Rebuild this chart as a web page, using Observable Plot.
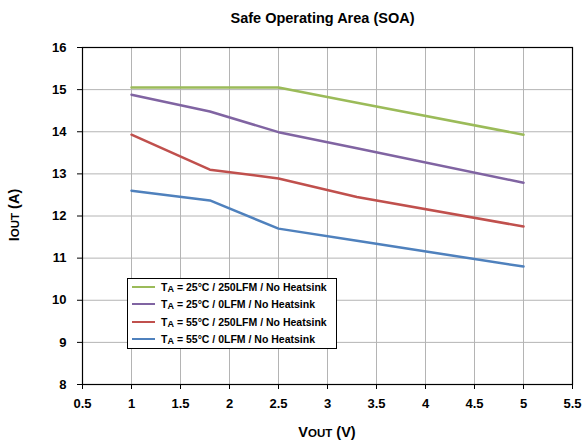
<!DOCTYPE html>
<html>
<head>
<meta charset="utf-8">
<script src="https://cdn.jsdelivr.net/npm/d3@7"></script>
<script src="https://cdn.jsdelivr.net/npm/@observablehq/plot@0.6"></script>
<style>
  body { margin: 0; background: #fff; font-family: "Liberation Sans", Arial, sans-serif; }
  #wrap { position: relative; width: 587px; height: 440px; }
  #title { height: 36px; line-height: 36px; text-align: center; font-weight: bold; font-size: 14.5px; color: #000; padding-left: 58px; box-sizing: border-box; }
  .axlabel { position: absolute; font-weight: bold; font-size: 14.5px; color: #000; white-space: nowrap; }
  .axlabel .sub { font-size: 11.5px; }
  #xlabel { left: 327px; top: 424px; transform: translateX(-50%); }
  #ylabel { left: 14px; top: 215px; transform: translate(-50%, -50%) rotate(-90deg); }
  #legend { position: absolute; left: 127px; top: 278px; width: 210px; height: 71px; border: 1px solid #000; background: #fff; box-sizing: border-box; font-weight: bold; font-size: 10.5px; color: #000; }
  .entry { position: absolute; left: 4px; height: 13px; display: flex; align-items: center; white-space: nowrap; }
  .swatch { width: 23px; height: 2px; margin-right: 6px; }
  .entry .sub { font-size: 9px; position: relative; top: 2px; margin-right: 3px; }
</style>
</head>
<body>
<div id="wrap">
  <div id="title">Safe Operating Area (SOA)</div>
  <div id="chart"></div>
  <div id="xlabel" class="axlabel">V<span class="sub">OUT</span> (V)</div>
  <div id="ylabel" class="axlabel">I<span class="sub">OUT</span> (A)</div>
  <div id="legend"></div>
</div>
<script>
// Output current limits (A) versus output voltage (V) for each operating condition
const seriesNames = [
  "25°C / 250LFM / No Heatsink",
  "25°C / 0LFM / No Heatsink",
  "55°C / 250LFM / No Heatsink",
  "55°C / 0LFM / No Heatsink"
];
const seriesColors = ["#9BBB59", "#8064A2", "#C0504D", "#4F81BD"];

const voutPoints = [1, 1.8, 2.5, 3.3, 5];
const iout25C250LFM = [15.05, 15.05, 15.05, 14.69, 13.93];
const iout25C0LFM   = [14.88, 14.48, 13.99, 13.61, 12.79];
const iout55C250LFM = [13.93, 13.10, 12.89, 12.45, 11.75];
const iout55C0LFM   = [12.60, 12.37, 11.70, 11.41, 10.80];

const xTicks = [0.5, 1, 1.5, 2, 2.5, 3, 3.5, 4, 4.5, 5, 5.5];
const yTicks = [8, 9, 10, 11, 12, 13, 14, 15, 16];

const allSeries = [iout25C250LFM, iout25C0LFM, iout55C250LFM, iout55C0LFM];
const rows = allSeries.flatMap((vals, s) =>
  vals.map((iout, k) => ({series: seriesNames[s], vout: voutPoints[k], iout}))
);

const chart = Plot.plot({
  width: 587,
  height: 404,
  marginTop: 11,
  marginBottom: 56,
  marginLeft: 82,
  marginRight: 15,
  style: {fontFamily: "'Liberation Sans', Arial, sans-serif", fontSize: "13px", fontWeight: "bold", color: "#000"},
  x: {domain: [0.5, 5.5]},
  y: {domain: [8, 16]},
  color: {domain: seriesNames, range: seriesColors},
  marks: [
    Plot.ruleX(xTicks, {stroke: "#b4b4b4", strokeWidth: 1}),
    Plot.ruleY(yTicks, {stroke: "#b4b4b4", strokeWidth: 1}),
    Plot.line(rows, {x: "vout", y: "iout", z: "series", stroke: "series", strokeWidth: 2.5, curve: "linear"}),
    Plot.frame({stroke: "#000", strokeWidth: 1.2}),
    Plot.axisX(xTicks, {label: null, tickSize: 5, tickPadding: 9, tickFormat: d => String(d), stroke: "#000"}),
    Plot.axisY(yTicks, {label: null, tickSize: 5, tickPadding: 11, tickFormat: d => String(d), stroke: "#000"})
  ]
});
document.getElementById("chart").appendChild(chart);

// Legend box inside the plot area
const legend = document.getElementById("legend");
seriesNames.forEach((name, i) => {
  const e = document.createElement("div");
  e.className = "entry";
  e.style.top = (1 + i * 17.5) + "px";
  e.innerHTML = `<span class="swatch" style="background:${seriesColors[i]}"></span>T<span class="sub">A</span>= ${name}`;
  legend.appendChild(e);
});
</script>
</body>
</html>
